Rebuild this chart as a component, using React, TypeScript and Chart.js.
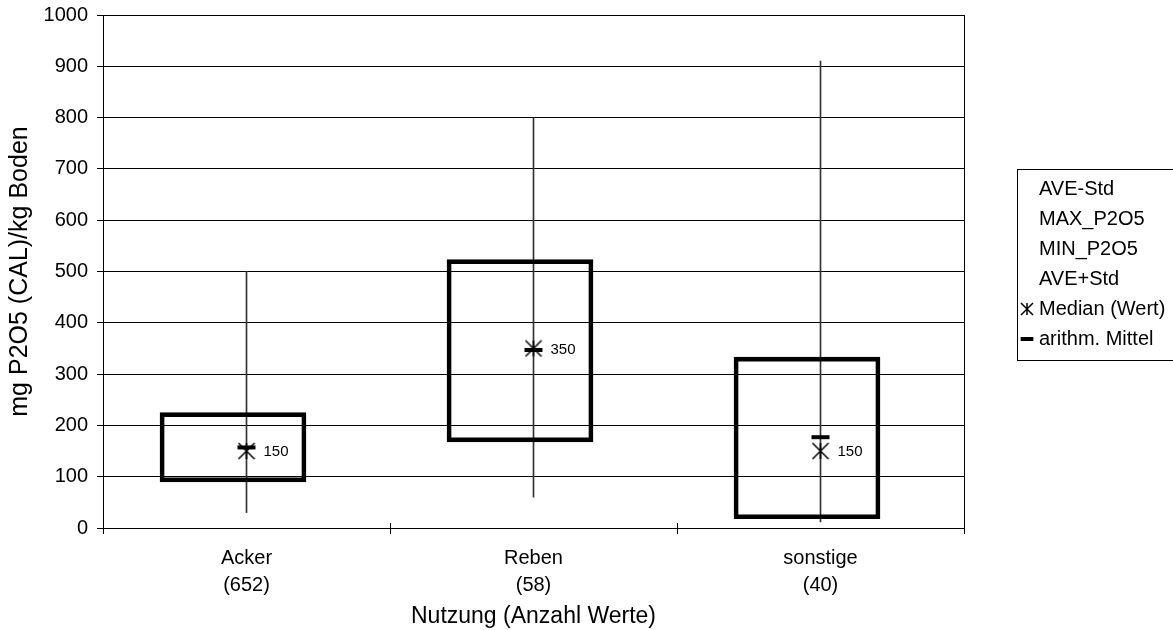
import React, { useEffect, useRef } from "react";
import { Chart, registerables } from "chart.js";

Chart.register(...registerables);

const categories = [["Acker", "(652)"], ["Reben", "(58)"], ["sonstige", "(40)"]];
const aveMinusStd = [90, 168, 18];
const avePlusStd = [225, 523, 333];
const maxP2O5 = [500, 800, 910];
const minP2O5 = [30, 60, 12];
const median = [150, 350, 150];
const mean = [157, 347, 177];
const yTicks = [0, 100, 200, 300, 400, 500, 600, 700, 800, 900, 1000];
const legendLabels = ["AVE-Std", "MAX_P2O5", "MIN_P2O5", "AVE+Std", "Median (Wert)", "arithm. Mittel"];

const FONT = "'Liberation Sans', Arial, sans-serif";
// the boxes sit slightly left of the category centre, as in the original
const BOX_SHIFT = 0.047;

function makeStar(size: number, lw: number): HTMLCanvasElement {
  const c = document.createElement("canvas");
  c.width = size;
  c.height = size;
  const ctx = c.getContext("2d")!;
  ctx.strokeStyle = "#000";
  ctx.lineWidth = lw;
  const m = 1;
  ctx.beginPath();
  ctx.moveTo(m, m);
  ctx.lineTo(size - m, size - m);
  ctx.moveTo(size - m, m);
  ctx.lineTo(m, size - m);
  ctx.moveTo(size / 2, m);
  ctx.lineTo(size / 2, size - m);
  ctx.stroke();
  return c;
}

const crossTicksPlugin = {
  id: "crossTicks",
  afterDraw(chart: any) {
    const x = chart.scales.x;
    const ctx = chart.ctx;
    const n = categories.length;
    const step = x.getPixelForValue(1) - x.getPixelForValue(0);
    ctx.save();
    ctx.strokeStyle = "#000";
    ctx.lineWidth = 1;
    for (let i = 0; i <= n; i++) {
      const px = Math.round(x.getPixelForValue(0) - step / 2 + i * step) + 0.5;
      ctx.beginPath();
      ctx.moveTo(px, chart.chartArea.bottom - 5);
      ctx.lineTo(px, chart.chartArea.bottom);
      ctx.stroke();
    }
    ctx.restore();
  },
};

const legendBorderPlugin = {
  id: "legendBorder",
  afterDraw(chart: any) {
    const lg = chart.legend;
    if (!lg || !lg.legendHitBoxes || !lg.legendHitBoxes.length) return;
    const hb = lg.legendHitBoxes;
    const first = hb[0];
    const last = hb[hb.length - 1];
    const ctx = chart.ctx;
    ctx.save();
    ctx.strokeStyle = "#000";
    ctx.lineWidth = 1;
    const left = Math.round(lg.left + 2) + 0.5;
    const top = Math.round(first.top - 10) + 0.5;
    const bottom = Math.round(last.top + last.height + 11) + 0.5;
    ctx.strokeRect(left, top, 1200 - left, bottom - top);
    ctx.restore();
  },
};

const medianLabelPlugin = {
  id: "medianLabels",
  afterDatasetsDraw(chart: any) {
    const idx = chart.data.datasets.findIndex((d: any) => d.label === "Median (Wert)");
    if (idx < 0) return;
    const meta = chart.getDatasetMeta(idx);
    const ctx = chart.ctx;
    ctx.save();
    ctx.fillStyle = "#000";
    ctx.font = `15px ${FONT}`;
    ctx.textAlign = "left";
    ctx.textBaseline = "middle";
    meta.data.forEach((pt: any, i: number) => {
      ctx.fillText(String(median[i]), pt.x + 17, pt.y + 1);
    });
    ctx.restore();
  },
};

export default function App() {
  const ref = useRef<HTMLCanvasElement | null>(null);

  useEffect(() => {
    if (!ref.current) return;
    const starPlot = makeStar(18, 1.5);
    const starLegend = makeStar(14, 1.5);
    const chart = new Chart(ref.current, {
      type: "bar",
      data: {
        labels: categories as any,
        datasets: [
          {
            type: "bar",
            label: "range",
            data: minP2O5.map((v, i) => [v, maxP2O5[i]]) as any,
            backgroundColor: "#333",
            borderWidth: 0,
            barThickness: 1,
            grouped: false,
            order: 3,
          } as any,
          {
            type: "bar",
            label: "box",
            xAxisID: "x2",
            data: aveMinusStd.map((v, i) => ({ x: i, y: [v, avePlusStd[i]] })) as any,
            backgroundColor: "rgba(0,0,0,0)",
            borderColor: "#000",
            borderWidth: 4,
            borderSkipped: false,
            grouped: false,
            barThickness: 146,
            order: 2,
          } as any,
          {
            type: "line",
            label: "Median (Wert)",
            data: median,
            showLine: false,
            pointStyle: starPlot,
            pointRadius: 9,
            order: 1,
          } as any,
          {
            type: "line",
            label: "arithm. Mittel",
            data: mean,
            showLine: false,
            pointStyle: "line",
            pointRadius: 9,
            pointBorderWidth: 4,
            pointBorderColor: "#000",
            pointBackgroundColor: "#000",
            order: 0,
          } as any,
        ],
      },
      options: {
        responsive: false,
        animation: false,
        layout: { padding: { top: 15, right: 6, left: 0, bottom: 0 } },
        plugins: {
          tooltip: { enabled: false },
          legend: {
            display: true,
            position: "right",
            fullSize: false,
            align: "start",
            maxWidth: 152,
            title: {
              display: true,
              text: " ",
              font: { size: 10 },
              padding: { top: 71, bottom: 71 },
            },
            labels: {
              usePointStyle: true,
              boxWidth: 4,
              boxHeight: 9,
              padding: 10,
              color: "#000",
              font: { family: FONT, size: 20 },
              generateLabels: () =>
                legendLabels.map((t, i) => {
                  const isMedian = i === 4;
                  const isMean = i === 5;
                  return {
                    text: t,
                    fillStyle: isMedian || isMean ? "#000" : "rgba(0,0,0,0)",
                    strokeStyle: isMedian || isMean ? "#000" : "rgba(0,0,0,0)",
                    lineWidth: isMedian ? 1.5 : isMean ? 4 : 0,
                    pointStyle: isMedian ? starLegend : isMean ? "line" : "circle",
                    hidden: false,
                    fontColor: "#000",
                    datasetIndex: i,
                  } as any;
                }),
            },
          },
        },
        scales: {
          x: {
            type: "category",
            offset: true,
            grid: {
              display: true,
              drawOnChartArea: false,
              offset: true,
              tickLength: 6,
              color: "#000",
            },
            border: { display: true, color: "#000", width: 1 },
            ticks: {
              color: "#000",
              font: { family: FONT, size: 20, lineHeight: 1.35 },
              padding: 11,
              maxRotation: 0,
              autoSkip: false,
            },
            title: {
              display: true,
              text: "Nutzung (Anzahl Werte)",
              color: "#000",
              font: { family: FONT, size: 23 },
              padding: { top: 0, bottom: 0 },
            },
            afterFit: (s: any) => {
              s.height = 102;
            },
          },
          x2: {
            type: "linear",
            display: false,
            offset: false,
            grid: { offset: false },
            min: -0.5 + BOX_SHIFT,
            max: categories.length - 0.5 + BOX_SHIFT,
          },
          y: {
            min: 0,
            max: 1000,
            afterBuildTicks: (s: any) => {
              s.ticks = yTicks.map((v) => ({ value: v }));
            },
            grid: {
              color: "#000",
              lineWidth: 1,
              tickLength: 6,
              drawTicks: true,
            },
            border: { display: true, color: "#000", width: 1 },
            ticks: {
              color: "#000",
              font: { family: FONT, size: 20 },
              padding: 9,
              callback: (v: any) => String(v),
            },
            title: {
              display: true,
              text: "mg P2O5 (CAL)/kg Boden",
              color: "#000",
              font: { family: FONT, size: 25 },
              padding: { top: 5, bottom: 0 },
            },
            afterFit: (s: any) => {
              s.width = 103;
              s.paddingTop = 0;
              s.paddingBottom = 0;
            },
          },
          yR: {
            position: "right",
            display: true,
            min: 0,
            max: 1000,
            grid: { display: false, drawTicks: false },
            border: { display: true, color: "#000", width: 1 },
            ticks: { display: false },
            afterFit: (s: any) => {
              s.width = 51;
              s.paddingTop = 0;
              s.paddingBottom = 0;
            },
          },
        },
      } as any,
      plugins: [crossTicksPlugin, legendBorderPlugin, medianLabelPlugin],
    });
    return () => chart.destroy();
  }, []);

  return (
    <div style={{ position: "fixed", left: 0, top: 0, width: 1173, height: 630, background: "#fff" }}>
      <canvas ref={ref} width={1173} height={630} />
    </div>
  );
}
